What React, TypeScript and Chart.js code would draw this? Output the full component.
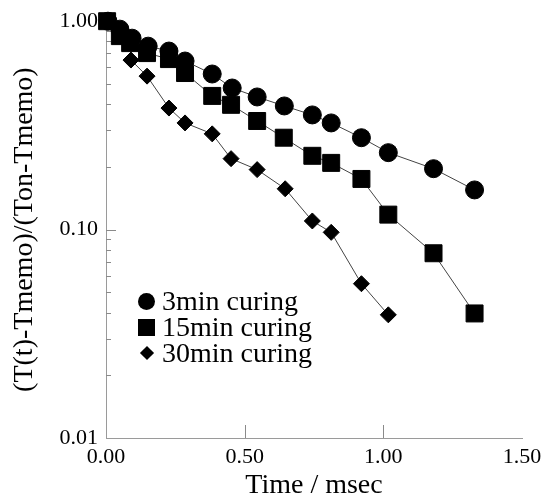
import React, { useEffect, useRef } from "react";
import { Chart, registerables } from "chart.js";
Chart.register(...registerables);

const seriesNames = ["3min curing", "15min curing", "30min curing"];
const time3 = [0.007, 0.05, 0.094, 0.152, 0.227, 0.285, 0.383, 0.455, 0.545, 0.643, 0.744, 0.812, 0.921, 1.018, 1.181, 1.329];
const ratio3 = [1.0, 0.916, 0.829, 0.759, 0.719, 0.644, 0.558, 0.478, 0.433, 0.392, 0.355, 0.325, 0.276, 0.234, 0.196, 0.155];
const time15 = [0.004, 0.05, 0.087, 0.148, 0.227, 0.285, 0.383, 0.451, 0.545, 0.641, 0.744, 0.812, 0.921, 1.018, 1.181, 1.329];
const ratio15 = [1.0, 0.848, 0.785, 0.703, 0.658, 0.564, 0.438, 0.397, 0.332, 0.276, 0.226, 0.209, 0.175, 0.118, 0.077, 0.0396];
const time30 = [0.09, 0.148, 0.227, 0.285, 0.383, 0.451, 0.545, 0.646, 0.744, 0.812, 0.921, 1.018];
const ratio30 = [0.651, 0.545, 0.383, 0.325, 0.288, 0.219, 0.194, 0.157, 0.11, 0.097, 0.055, 0.039];

const xTicks = [0, 0.5, 1.0, 1.5];
const yTicks = [0.01, 0.1, 1];
const yMinorTicks = [0.02, 0.03, 0.04, 0.05, 0.06, 0.07, 0.08, 0.09, 0.2, 0.3, 0.4, 0.5, 0.6, 0.7, 0.8, 0.9];

const FONT = "'Liberation Serif', 'Times New Roman', serif";

const innerTicks = {
  id: "innerTicks",
  beforeDatasetsDraw(chart: any) {
    const { ctx, chartArea, scales } = chart;
    const x = scales.x, y = scales.y;
    ctx.save();
    ctx.strokeStyle = "#8a8a8a";
    ctx.lineWidth = 1;
    ctx.beginPath();
    xTicks.slice(1, 3).forEach((v) => {
      const px = Math.round(x.getPixelForValue(v)) + 0.5;
      ctx.moveTo(px, chartArea.bottom);
      ctx.lineTo(px, chartArea.bottom - 13);
    });
    yTicks.slice(1, 2).forEach((v) => {
      const py = Math.round(y.getPixelForValue(v)) + 0.5;
      ctx.moveTo(chartArea.left, py);
      ctx.lineTo(chartArea.left + 10, py);
    });
    yMinorTicks.forEach((v) => {
      const py = Math.round(y.getPixelForValue(v)) + 0.5;
      ctx.moveTo(chartArea.left, py);
      ctx.lineTo(chartArea.left + 5, py);
    });
    ctx.stroke();
    ctx.restore();
  },
};

export default function App() {
  const ref = useRef<HTMLCanvasElement>(null);
  useEffect(() => {
    if (!ref.current) return;
    const mk = (t: number[], r: number[]) => t.map((v, i) => ({ x: v, y: r[i] }));
    const common = { borderColor: "#444", backgroundColor: "#000", pointBackgroundColor: "#000", pointBorderColor: "#000", borderWidth: 1, clip: false as any };
    const chart = new Chart(ref.current, {
      type: "line",
      data: {
        datasets: [
          { label: seriesNames[0], data: mk(time3, ratio3), pointStyle: "circle", pointRadius: 9, ...common },
          { label: seriesNames[1], data: mk(time15, ratio15), pointStyle: "rect", pointRadius: 12, ...common },
          { label: seriesNames[2], data: mk(time30, ratio30), pointStyle: "rectRot", pointRadius: 8, ...common },
        ],
      },
      options: {
        responsive: false,
        animation: false,
        layout: { padding: { top: 20, right: 26, left: 0, bottom: 0 } },
        plugins: { legend: { display: false }, tooltip: { enabled: false } },
        scales: {
          x: {
            type: "linear",
            min: 0,
            max: 1.5,
            afterBuildTicks: (s: any) => { s.ticks = xTicks.map((v) => ({ value: v })); },
            afterFit: (s: any) => { s.height = 62; },
            grid: { display: false, drawTicks: false },
            border: { display: true, color: "#9a9a9a", width: 1, dash: [10, 4] },
            ticks: { color: "#000", font: { family: FONT, size: 22 }, padding: 6, maxRotation: 0, callback: (v: any) => Number(v).toFixed(2) },
            title: { display: true, text: "Time / msec", color: "#000", font: { family: FONT, size: 28, lineHeight: 1 }, padding: { top: 0, bottom: 0 } },
          },
          y: {
            type: "logarithmic",
            min: 0.01,
            max: 1,
            afterBuildTicks: (s: any) => { s.ticks = yTicks.map((v) => ({ value: v })); },
            afterFit: (s: any) => { s.width = 106; },
            grid: { display: false, drawTicks: false },
            border: { display: true, color: "#9a9a9a", width: 1, dash: [6, 4] },
            ticks: { color: "#000", font: { family: FONT, size: 22 }, padding: 8, callback: (v: any) => Number(v).toFixed(2) },
            title: { display: true, text: "(T(t)-Tmemo)/(Ton-Tmemo)", color: "#000", font: { family: FONT, size: 28, lineHeight: 1 }, padding: { top: 11, bottom: 0 } },
          },
        },
      },
      plugins: [innerTicks],
    });
    return () => chart.destroy();
  }, []);

  const row: React.CSSProperties = { display: "flex", alignItems: "center", height: 26, lineHeight: "26px", fontFamily: FONT, fontSize: 28, color: "#000", whiteSpace: "nowrap" };
  return (
    <div style={{ position: "absolute", left: 0, top: 0, width: 548, height: 500, background: "#fff" }}>
      <canvas ref={ref} width={548} height={500} style={{ display: "block" }} />
      <div style={{ position: "absolute", left: 138, top: 288 }}>
        <div style={row}>
          <span style={{ width: 17, height: 17, borderRadius: "50%", background: "#000", marginRight: 7, display: "inline-block" }} />
          <span>{seriesNames[0]}</span>
        </div>
        <div style={row}>
          <span style={{ width: 17, height: 17, background: "#000", marginRight: 7, display: "inline-block" }} />
          <span>{seriesNames[1]}</span>
        </div>
        <div style={row}>
          <span style={{ width: 17, display: "inline-flex", justifyContent: "center", marginRight: 7 }}>
            <span style={{ width: 10, height: 10, background: "#000", transform: "rotate(45deg)", display: "inline-block" }} />
          </span>
          <span>{seriesNames[2]}</span>
        </div>
      </div>
    </div>
  );
}
